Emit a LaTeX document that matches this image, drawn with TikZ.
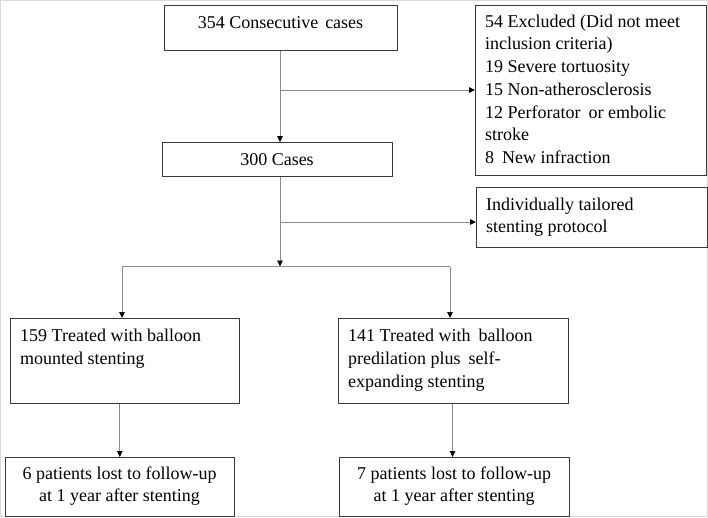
\documentclass[tikz,border=0pt]{standalone}
\usepackage{fontspec}
\setmainfont{Liberation Serif}
\usetikzlibrary{arrows.meta}
\definecolor{boxc}{HTML}{3A3A3A}
\definecolor{linec}{HTML}{8A8A8A}
\begin{document}
\begin{tikzpicture}[x=1pt,y=-1pt,
  box/.style={draw=boxc, line width=1.1pt, inner sep=0pt, anchor=north west},
  txt/.style={inner sep=0pt, font=\fontsize{18}{22.7}\selectfont, align=left},
  ctxt/.style={inner sep=0pt, font=\fontsize{18}{22.7}\selectfont, align=center, anchor=north},
  conn/.style={draw=linec, line width=0.9pt},
  arr/.style={conn, -{Triangle[length=6pt,width=5.5pt,color=black]}}]
\draw[draw=black!15, line width=0.8pt] (0.4,0.4) rectangle (707.6,516.6);
\useasboundingbox (0,0) rectangle (708,517);
% boxes
\node[box, minimum width=233pt, minimum height=45pt] (b1) at (164,5) {};
\node[box, minimum width=230pt, minimum height=34pt] (b2) at (162,142) {};
\node[box, minimum width=231pt, minimum height=170pt] (exc) at (475,5) {};
\node[box, minimum width=231pt, minimum height=60pt] (ind) at (476,187) {};
\node[box, minimum width=229pt, minimum height=85pt] (L) at (10,318) {};
\node[box, minimum width=230pt, minimum height=85pt] (R) at (338,318) {};
\node[box, minimum width=229.5pt, minimum height=59pt] (BL) at (4.5,457) {};
\node[box, minimum width=230pt, minimum height=59pt] (BR) at (339,457) {};
% texts
\node[ctxt] (t1) at (280.5,14) {\rule{0pt}{14pt}354 Consecutive\hspace{7pt}cases};
\node[ctxt] (t2) at (277,151) {\rule{0pt}{14pt}300 Cases};
\node[txt, anchor=north west] (texc) at (485,13) {\rule{0pt}{14pt}54 Excluded (Did not meet\\inclusion criteria)\\19 Severe tortuosity\\15 Non-atherosclerosis\\12 Perforator\hspace{8pt}or embolic\\stroke\\8\hspace{8pt}New infraction};
\node[txt, anchor=north west] (tind) at (486,196) {\rule{0pt}{14pt}Individually tailored\\stenting protocol};
\node[txt, anchor=north west] (tL) at (20,327.5) {\rule{0pt}{14pt}159 Treated with balloon\\mounted stenting};
\node[txt, anchor=north west] (tR) at (348,327.5) {\rule{0pt}{14pt}141 Treated with\hspace{8pt}balloon\\predilation plus\hspace{8pt}self-\\expanding stenting};
\node[ctxt] (tBL) at (119.5,465) {\rule{0pt}{14pt}6 patients lost to follow-up\\at 1 year after stenting};
\node[ctxt] (tBR) at (454,465) {\rule{0pt}{14pt}7 patients lost to follow-up\\at 1 year after stenting};
% connectors
\coordinate (j1) at (280,90);
\coordinate (j2) at (280,222);
\coordinate (j3) at (280,266.5);
\coordinate (jl) at (122,266.5);
\coordinate (jr) at (450,266.5);
\draw[arr] (j1 |- b1.south) -- (j1 |- b2.north);
\draw[arr] (j1) -- (j1 -| exc.west);
\draw[arr] (j1 |- b2.south) -- (j3);
\draw[arr] (j2) -- (j2 -| ind.west);
\draw[conn] (jl) -- (jr);
\draw[arr] (jl) -- (jl |- L.north);
\draw[arr] (jr) -- (jr |- R.north);
\draw[arr] (BL.north |- L.south) -- (BL.north);
\draw[arr] ([xshift=-2pt]BR.north |- R.south) -- ([xshift=-2pt]BR.north);
\end{tikzpicture}
\end{document}
